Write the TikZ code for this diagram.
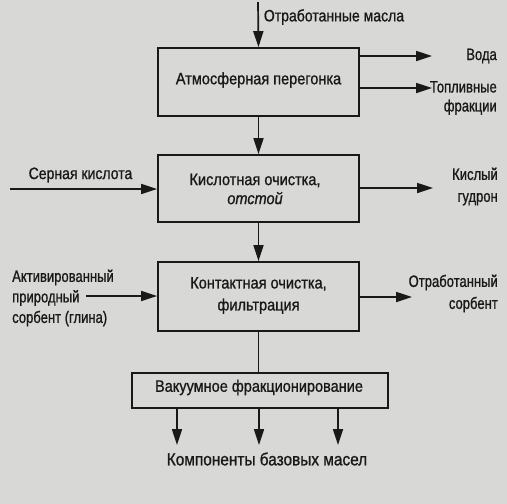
\documentclass[tikz,border=0pt]{standalone}
\usepackage{fontspec}
\setmainfont{Liberation Sans}[FakeStretch=0.85,FakeBold=1]
\newfontfamily\labf{Liberation Sans}[FakeStretch=0.79,FakeBold=1]
\newfontfamily\boxf{Liberation Sans}[FakeStretch=0.88,FakeBold=1]
\usetikzlibrary{arrows.meta}
\definecolor{paper}{RGB}{216,216,214}
\definecolor{ink}{RGB}{25,25,25}
\tikzset{
  box/.style={draw=ink, line width=1.7pt, rectangle, inner sep=0pt},
  txt/.style={text=ink, inner sep=0pt, font=\fontsize{16.5}{21}\selectfont},
  arr/.style={draw=ink, line width=1.7pt, -{Triangle[length=16pt,width=10pt]}},
  ln/.style={draw=ink, line width=1.7pt},
}
\begin{document}
\begin{tikzpicture}[x=1pt,y=-1pt]
\path[use as bounding box, fill=paper] (0,0) rectangle (507,504);
% boxes
\node[box, minimum width=201pt, minimum height=68pt] (b1) at (258.5,82) {};
\node[box, minimum width=201pt, minimum height=67pt] (b2) at (258.5,188.5) {};
\node[box, minimum width=201pt, minimum height=69pt] (b3) at (258.5,296.5) {};
\node[box, minimum width=256pt, minimum height=35pt] (b4) at (260,390.5) {};
% box texts
\node[txt, font=\boxf\fontsize{16.5}{21}\selectfont] (t1) at (258.5,80) {Атмосферная перегонка};
\node[txt, align=center, font=\boxf\fontsize{16.5}{19}\selectfont] (t2) at (255,189) {Кислотная очистка,\\\textit{отстой}};
\node[txt, align=center, font=\boxf\fontsize{16.5}{22}\selectfont] (t3) at (258.5,295.5) {Контактная очистка,\\фильтрация};
\node[txt, font=\boxf\fontsize{16.5}{21}\selectfont] (t4) at (259,387.5) {Вакуумное фракционирование};
% top input
\coordinate (in1) at (258,2);
\draw[arr] (in1) -- (b1.north);
\node[txt] (lin) at (334,17) {Отработанные масла};
% outputs of b1
\coordinate (w) at (432,56);
\draw[arr] (w -| b1.east) -- (w);
\node[txt, anchor=east, font=\labf\fontsize{16.5}{21}\selectfont] (lw) at (497,56) {Вода};
\coordinate (f) at (432,88);
\draw[arr] (f -| b1.east) -- (f);
\node[txt, anchor=east, align=right, font=\labf\fontsize{16.5}{19}\selectfont] (lf) at (497,98) {Топливные\\фракции};
% b1 -> b2
\draw[arr] (b1.south) -- (b2.north);
% acid
\coordinate (s) at (10,189);
\draw[arr] (s) -- (s -| b2.west);
\node[txt] (ls) at (80.5,175) {Серная кислота};
\coordinate (g) at (433,188);
\draw[arr] (g -| b2.east) -- (g);
\node[txt, anchor=east, align=right, font=\labf\fontsize{16.5}{22}\selectfont] (lg) at (498,186.5) {Кислый\\гудрон};
% b2 -> b3
\draw[arr] (b2.south) -- (b3.north);
% sorbent
\coordinate (a) at (86,296);
\draw[arr] (a) -- (a -| b3.west);
\node[txt, anchor=west, align=left, font=\labf\fontsize{16.5}{20.5}\selectfont] (la) at (12,298) {Активированный\\природный\\сорбент (глина)};
\coordinate (o) at (412,297);
\draw[arr] (o -| b3.east) -- (o);
\node[txt, anchor=east, align=right, font=\labf\fontsize{16.5}{22}\selectfont] (lo) at (498,293.5) {Отработанный\\сорбент};
% b3 -> b4
\draw[ln] (b3.south) -- (b3.south |- b4.north);
% outputs of b4
\coordinate (c1) at (177,445);
\coordinate (c2) at (259,445);
\coordinate (c3) at (338,445);
\draw[arr] (c1 |- b4.south) -- (c1);
\draw[arr] (c2 |- b4.south) -- (c2);
\draw[arr] (c3 |- b4.south) -- (c3);
\node[txt, font=\boxf\fontsize{17.5}{21}\selectfont] (lc) at (267,459) {Компоненты базовых масел};
\end{tikzpicture}
\end{document}
